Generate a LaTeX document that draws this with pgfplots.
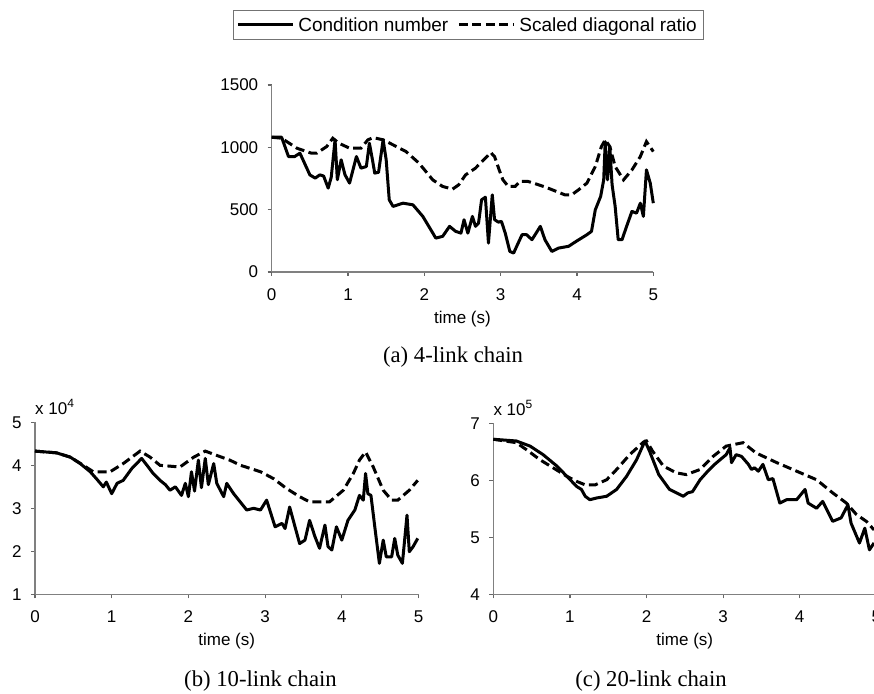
\documentclass[border=0pt]{standalone}
\usepackage{fontspec}
\setmainfont{Liberation Sans}
\newfontfamily\capfont{Liberation Serif}
\usepackage{pgfplots}
\pgfplotsset{compat=1.18}

\pgfplotsset{
  chainaxis/.style={
    scale only axis,
    axis x line=bottom, axis y line=left,
    axis line style={-, black!50, line width=1.2pt},
    tick style={black!60, line width=1.2pt},
    major tick length=4pt,
    tick align=outside,
    xmin=0, xmax=5, xtick={0,1,...,5},
    /pgf/number format/assume math mode=true,
    /pgf/number format/1000 sep={},
    tick label style={font=\fontsize{17}{20}\selectfont},
    xticklabel style={yshift=-9pt},
    yticklabel style={xshift=-6pt},
    scaled ticks=false,
    xlabel={time (s)},
    every axis x label/.style={at={(axis description cs:0.5,0)}, anchor=center, yshift=-47pt, font=\fontsize{17}{20}\selectfont},
    clip=false,
  },
  cond/.style={black, line width=3pt, line join=round},
  diag/.style={black, line width=3pt, dash pattern=on 9pt off 4.5pt},
}

\begin{document}
\begin{tikzpicture}
\path[use as bounding box] (0pt,0pt) rectangle (874pt,693pt);

% (a) 4-link chain
\begin{axis}[chainaxis, at={(271.7pt,421pt)}, anchor=south west,
  width=381.6pt, height=187pt,
  ymin=0, ymax=1500, ytick={0,500,1000,1500},
  legend columns=2,
  legend style={at={(0.516,1.321)}, anchor=center, draw=black!55, line width=0.8pt,
    inner sep=3pt, font=\fontsize{19}{22}\selectfont,
    nodes={inner xsep=4pt, inner ysep=4pt},
    /tikz/every even column/.append style={column sep=5pt}},
  legend image code/.code={\draw[#1] (0pt,0pt) -- (55pt,0pt);},
  ]
\addplot[cond] coordinates {
(0,1081) (0.13,1081) (0.22,926) (0.3,926) (0.37,953) (0.5,779) (0.57,753) (0.63,779) (0.68,770) (0.74,673) (0.78,760) (0.83,1060) (0.86,740) (0.91,900) (0.96,780) (1.02,713) (1.11,926) (1.17,833) (1.24,846) (1.28,1033) (1.32,900) (1.35,793) (1.4,800) (1.46,1060) (1.5,900) (1.54,579) (1.59,526) (1.72,552) (1.85,539) (1.98,446) (2.15,272) (2.24,286) (2.33,366) (2.41,326) (2.48,312) (2.52,419) (2.57,312) (2.63,446) (2.67,366) (2.71,392) (2.75,579) (2.8,600) (2.84,232) (2.89,619) (2.92,420) (2.97,400) (3.01,406) (3.06,312) (3.12,165) (3.17,152) (3.21,206) (3.28,299) (3.34,299) (3.41,259) (3.52,366) (3.58,259) (3.67,165) (3.76,192) (3.89,206) (3.99,246) (4.13,299) (4.19,326) (4.24,499) (4.31,606) (4.35,739) (4.37,1046) (4.4,739) (4.43,1006) (4.46,700) (4.5,526) (4.54,259) (4.59,259) (4.65,366) (4.72,486) (4.78,472) (4.83,552) (4.87,446) (4.91,819) (4.96,713) (5.0,552)
};
\addlegendentry{Condition number}
\addplot[diag] coordinates {
(0,1081) (0.13,1073) (0.33,993) (0.52,953) (0.59,953) (0.72,1006) (0.8,1073) (0.88,1033) (1.02,993) (1.17,993) (1.26,1060) (1.33,1078) (1.46,1060) (1.59,1020) (1.76,966) (1.93,873) (2.11,739) (2.24,686) (2.37,665) (2.45,699) (2.54,779) (2.67,833) (2.8,913) (2.87,958) (2.92,926) (2.98,820) (3.03,739) (3.1,686) (3.19,686) (3.25,726) (3.36,726) (3.47,705) (3.6,678) (3.73,646) (3.84,619) (3.93,619) (4.02,659) (4.13,713) (4.24,846) (4.32,1006) (4.37,1060) (4.43,1006) (4.5,846) (4.61,739) (4.72,819) (4.83,926) (4.91,1046) (5.0,966)
};
\addlegendentry{Scaled diagonal ratio}
\end{axis}

% (b) 10-link chain
\begin{axis}[chainaxis, at={(35pt,98.7pt)}, anchor=south west,
  width=383.5pt, height=172pt,
  ymin=1, ymax=5, ytick={1,2,3,4,5}]
\addplot[cond] coordinates {
(0,4.33) (0.28,4.29) (0.46,4.19) (0.59,4.04) (0.72,3.85) (0.8,3.69) (0.89,3.5) (0.93,3.61) (1.0,3.34) (1.07,3.58) (1.15,3.65) (1.26,3.92) (1.39,4.16) (1.46,4.0) (1.54,3.81) (1.63,3.65) (1.7,3.55) (1.76,3.42) (1.83,3.5) (1.91,3.3) (1.96,3.58) (2.0,3.27) (2.04,3.85) (2.08,3.4) (2.13,4.12) (2.17,3.48) (2.22,4.16) (2.26,3.55) (2.33,4.04) (2.37,3.58) (2.46,3.27) (2.5,3.58) (2.59,3.34) (2.76,2.96) (2.85,3.0) (2.94,2.96) (3.02,3.19) (3.13,2.57) (3.22,2.65) (3.26,2.53) (3.32,3.03) (3.39,2.57) (3.45,2.18) (3.52,2.26) (3.58,2.72) (3.65,2.34) (3.71,2.07) (3.78,2.61) (3.82,2.11) (3.87,2.03) (3.93,2.57) (4.0,2.26) (4.08,2.72) (4.17,2.96) (4.23,3.3) (4.28,3.19) (4.31,3.81) (4.34,3.34) (4.38,3.3) (4.43,2.57) (4.49,1.72) (4.54,2.26) (4.58,1.87) (4.65,1.87) (4.69,2.3) (4.73,1.91) (4.79,1.72) (4.85,2.84) (4.88,1.99) (4.93,2.11) (4.99,2.3)
};
\addplot[diag] coordinates {
(0,4.33) (0.28,4.29) (0.46,4.19) (0.63,4.0) (0.76,3.85) (0.98,3.85) (1.15,4.04) (1.37,4.33) (1.5,4.19) (1.63,4.0) (1.89,3.96) (2.07,4.19) (2.22,4.33) (2.37,4.23) (2.54,4.12) (2.68,4.0) (2.94,3.85) (3.11,3.69) (3.28,3.46) (3.45,3.27) (3.58,3.15) (3.84,3.15) (4.02,3.42) (4.15,3.81) (4.23,4.12) (4.31,4.31) (4.41,3.96) (4.54,3.42) (4.65,3.19) (4.73,3.19) (4.88,3.42) (4.99,3.65)
};
\node[anchor=south west, inner sep=0pt, font=\fontsize{17}{20}\selectfont] at (axis description cs:0,1.045) {x 10$^{\mbox{\fontsize{12}{14}\selectfont 4}}$};
\end{axis}

% (c) 20-link chain
\begin{axis}[chainaxis, at={(493.3pt,98.7pt)}, anchor=south west,
  width=383pt, height=171pt,
  ymin=4, ymax=7, ytick={4,5,6,7}]
\addplot[cond] coordinates {
(0,6.72) (0.3,6.69) (0.48,6.6) (0.65,6.45) (0.83,6.25) (0.96,6.07) (1.09,5.89) (1.15,5.84) (1.2,5.72) (1.26,5.66) (1.35,5.69) (1.48,5.72) (1.61,5.84) (1.74,6.07) (1.87,6.36) (1.98,6.69) (2.04,6.51) (2.16,6.1) (2.3,5.84) (2.48,5.72) (2.54,5.78) (2.6,5.8) (2.7,6.01) (2.8,6.16) (2.89,6.28) (2.96,6.36) (3.04,6.45) (3.09,6.57) (3.11,6.31) (3.17,6.45) (3.24,6.42) (3.33,6.28) (3.37,6.19) (3.41,6.22) (3.46,6.16) (3.52,6.28) (3.59,6.01) (3.65,6.03) (3.74,5.6) (3.83,5.66) (3.96,5.66) (4.07,5.84) (4.11,5.6) (4.22,5.51) (4.3,5.63) (4.43,5.28) (4.54,5.34) (4.63,5.57) (4.67,5.25) (4.78,4.9) (4.85,5.16) (4.91,4.78) (4.97,4.9)
};
\addplot[diag] coordinates {
(0,6.72) (0.3,6.66) (0.43,6.54) (0.61,6.36) (0.78,6.22) (0.96,6.07) (1.09,5.98) (1.2,5.92) (1.33,5.92) (1.48,6.01) (1.61,6.19) (1.78,6.45) (1.96,6.67) (2.0,6.69) (2.08,6.51) (2.22,6.25) (2.39,6.13) (2.52,6.1) (2.7,6.19) (2.87,6.42) (3.04,6.6) (3.26,6.66) (3.43,6.48) (3.7,6.31) (3.96,6.16) (4.22,6.01) (4.43,5.78) (4.61,5.6) (4.74,5.4) (4.87,5.28) (4.97,5.13)
};
\node[anchor=south west, inner sep=0pt, font=\fontsize{17}{20}\selectfont] at (axis description cs:0,1.045) {x 10$^{\mbox{\fontsize{12}{14}\selectfont 5}}$};
\end{axis}

\node[font=\capfont\fontsize{22.7}{26}\selectfont] at (453pt,336pt) {(a) 4-link chain};
\node[font=\capfont\fontsize{22.7}{26}\selectfont] at (260.5pt,12pt) {(b) 10-link chain};
\node[font=\capfont\fontsize{22.7}{26}\selectfont] at (651pt,12pt) {(c) 20-link chain};
\end{tikzpicture}
\end{document}
